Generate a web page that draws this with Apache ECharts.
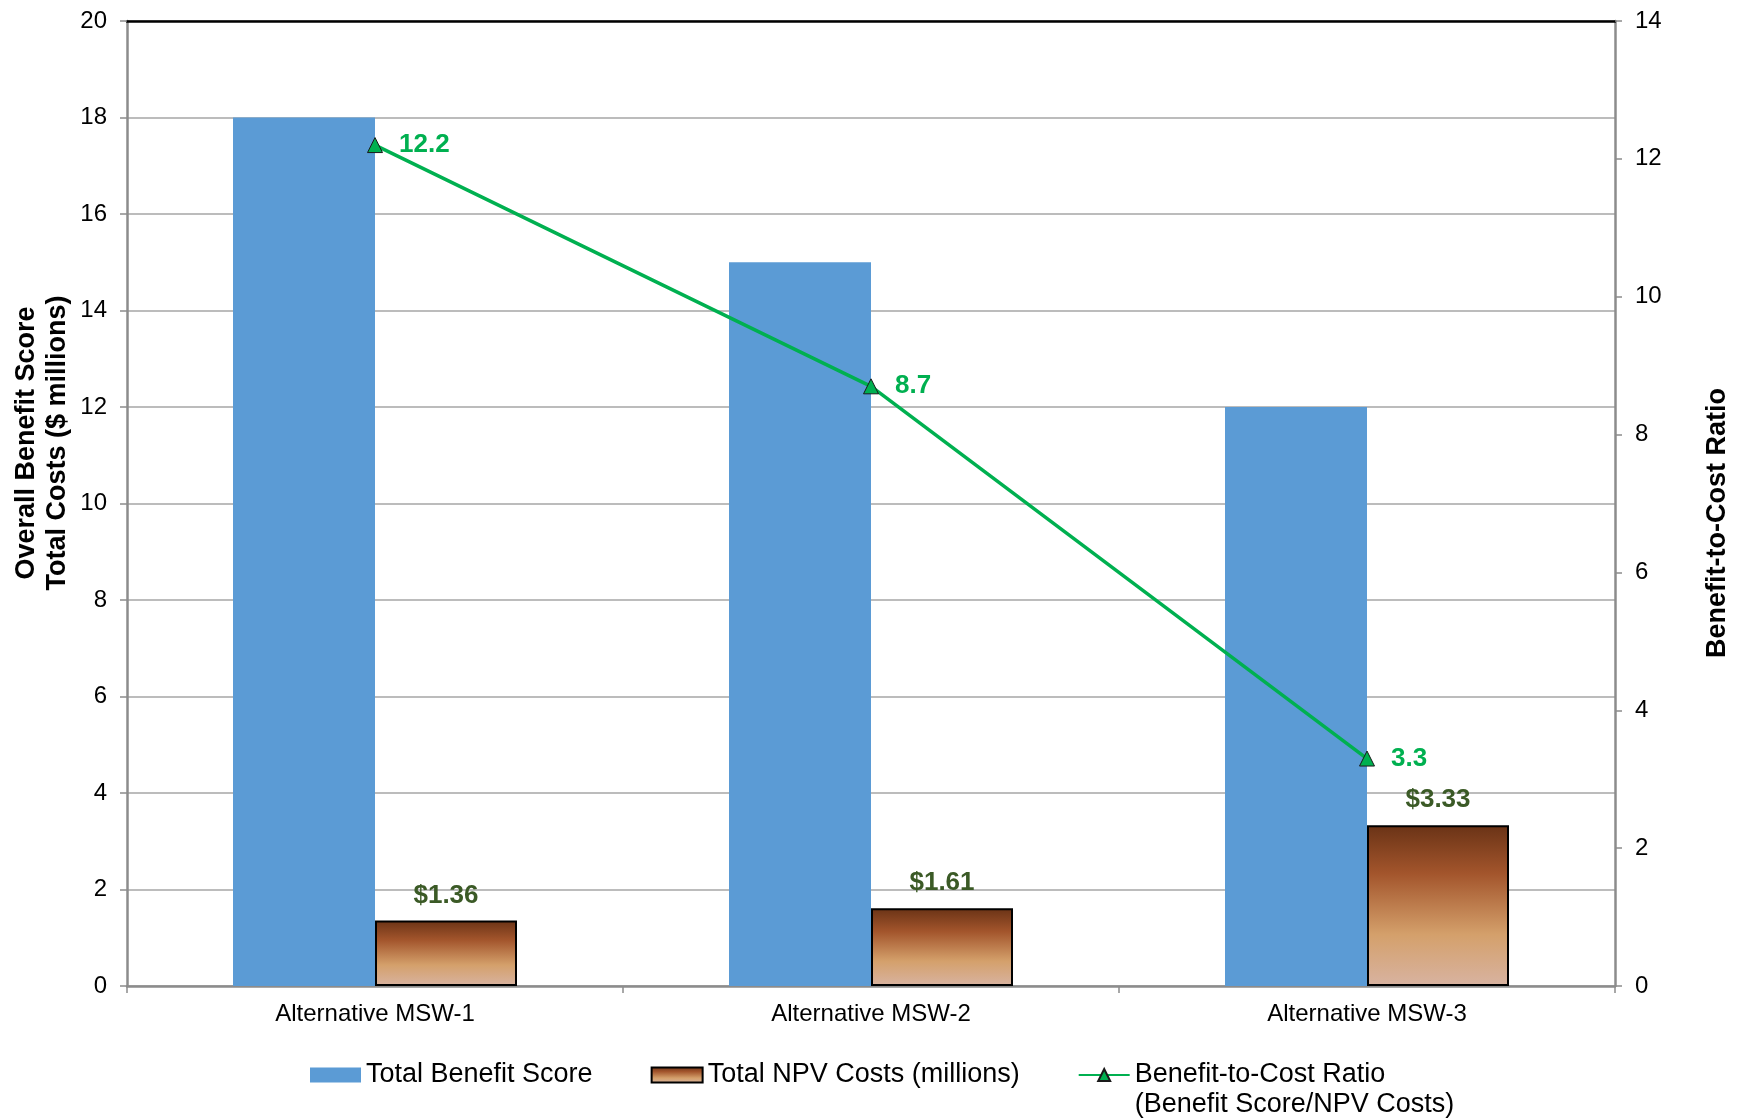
<!DOCTYPE html>
<html>
<head>
<meta charset="utf-8">
<title>Benefit-to-Cost Comparison</title>
<script src="https://cdn.jsdelivr.net/npm/echarts@6/dist/echarts.min.js"></script>
<style>
  html, body { margin: 0; padding: 0; background: #ffffff; }
  #chart { width: 1738px; height: 1120px; }
</style>
</head>
<body>
<div id="chart"></div>
<script>
// Alternatives compared
const categories = ['Alternative MSW-1', 'Alternative MSW-2', 'Alternative MSW-3'];
// Total benefit score per alternative (left axis)
const benefitScores = [18, 15, 12];
// Total NPV costs in $ millions (left axis)
const npvCosts = [1.36, 1.61, 3.33];
// Benefit score divided by NPV costs (right axis)
const costRatios = [12.2, 8.7, 3.3];
// Axis ranges
const leftAxisMax = 20;
const rightAxisMax = 14;
const axisStep = 2;

const FONT = 'Liberation Sans, Arial, Helvetica, sans-serif';
const GREY = '#8c8c8c';
const RATIO_NAME = 'Benefit-to-Cost Ratio\n(Benefit Score/NPV Costs)';

const chart = echarts.init(document.getElementById('chart'), null, { renderer: 'canvas' });

const brownFill = new echarts.graphic.LinearGradient(0, 0, 0, 1, [
  { offset: 0, color: '#6a3316' },
  { offset: 0.3, color: '#a3552c' },
  { offset: 0.68, color: '#d4a06b' },
  { offset: 1, color: '#d8b3a1' }
]);

chart.setOption({
  animation: false,
  backgroundColor: '#ffffff',
  textStyle: { fontFamily: FONT },
  grid: { left: 127, right: 123, top: 21, bottom: 134, containLabel: false },
  legend: {
    left: 310,
    top: 1030,
    padding: 0,
    itemWidth: 51,
    itemHeight: 15,
    itemGap: 58,
    textStyle: { fontFamily: FONT, fontSize: 27, color: '#000000', lineHeight: 30 },
    // the two-line ratio entry keeps its first line level with the marker
    formatter: name => (name === RATIO_NAME ? '\n' + name : name),
    data: [
      { name: 'Total Benefit Score', icon: 'rect' },
      { name: 'Total NPV Costs (millions)', icon: 'rect' },
      { name: RATIO_NAME }
    ]
  },
  xAxis: [
    {
      type: 'category',
      data: categories,
      position: 'bottom',
      axisLine: { lineStyle: { color: GREY, width: 2.5 } },
      axisTick: { show: true, length: 7, lineStyle: { color: GREY, width: 1.5 } },
      axisLabel: { color: '#000000', fontSize: 24, margin: 16, fontFamily: FONT },
      splitLine: { show: false }
    },
    {
      type: 'category',
      data: categories,
      position: 'top',
      axisLine: { onZero: false, lineStyle: { color: '#000000', width: 2.5 } },
      axisTick: { show: false },
      axisLabel: { show: false },
      splitLine: { show: false }
    }
  ],
  yAxis: [
    {
      type: 'value',
      min: 0,
      max: leftAxisMax,
      interval: axisStep,
      position: 'left',
      axisLine: { show: true, lineStyle: { color: GREY, width: 2.5 } },
      axisTick: { show: true, length: 7, lineStyle: { color: GREY, width: 1.5 } },
      axisLabel: { color: '#000000', fontSize: 24, margin: 20, fontFamily: FONT },
      splitLine: { show: true, lineStyle: { color: '#a6a6a6', width: 1.5 } }
    },
    {
      type: 'value',
      min: 0,
      max: rightAxisMax,
      interval: axisStep,
      position: 'right',
      axisLine: { show: true, lineStyle: { color: GREY, width: 2.5 } },
      axisTick: { show: true, length: 7, lineStyle: { color: GREY, width: 1.5 } },
      axisLabel: { color: '#000000', fontSize: 24, margin: 20, fontFamily: FONT },
      splitLine: { show: false }
    }
  ],
  series: [
    {
      name: 'Total Benefit Score',
      type: 'bar',
      xAxisIndex: 0,
      yAxisIndex: 0,
      data: benefitScores,
      barWidth: 142,
      barGap: '0%',
      itemStyle: { color: '#5b9bd5' },
      z: 2
    },
    {
      name: 'Total NPV Costs (millions)',
      type: 'bar',
      xAxisIndex: 0,
      yAxisIndex: 0,
      data: npvCosts,
      barWidth: 142,
      barGap: '0%',
      itemStyle: { color: brownFill, borderColor: '#000000', borderWidth: 2 },
      label: {
        show: true,
        position: 'top',
        distance: 12,
        color: '#3b5a26',
        fontWeight: 'bold',
        fontSize: 26,
        fontFamily: FONT,
        formatter: p => '$' + p.value.toFixed(2)
      },
      z: 3
    },
    {
      name: RATIO_NAME,
      type: 'line',
      xAxisIndex: 0,
      yAxisIndex: 1,
      data: costRatios,
      symbol: 'triangle',
      symbolSize: 15,
      lineStyle: { color: '#00b050', width: 3.5 },
      itemStyle: { color: '#00b050', borderColor: '#1a1a1a', borderWidth: 1 },
      label: {
        show: true,
        position: 'right',
        distance: 16,
        color: '#00b050',
        fontWeight: 'bold',
        fontSize: 26,
        fontFamily: FONT,
        formatter: p => String(p.value)
      },
      z: 5
    }
  ],
  graphic: [
    {
      type: 'text',
      x: 42,
      y: 443,
      rotation: Math.PI / 2,
      style: {
        text: 'Overall Benefit Score\nTotal Costs ($ millions)',
        fontFamily: FONT,
        fontSize: 27,
        fontWeight: 'bold',
        lineHeight: 31,
        fill: '#000000',
        align: 'center',
        verticalAlign: 'middle'
      }
    },
    {
      type: 'text',
      x: 1718,
      y: 523,
      rotation: Math.PI / 2,
      style: {
        text: 'Benefit-to-Cost Ratio',
        fontFamily: FONT,
        fontSize: 27,
        fontWeight: 'bold',
        fill: '#000000',
        align: 'center',
        verticalAlign: 'middle'
      }
    }
  ]
});
</script>
</body>
</html>
